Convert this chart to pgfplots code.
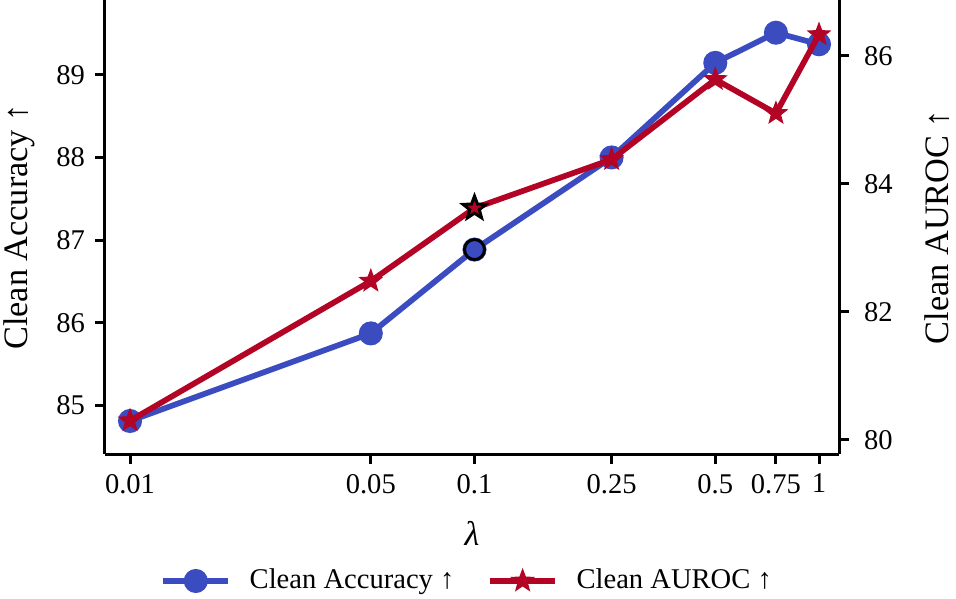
\documentclass[border=0pt]{standalone}
\usepackage{pgfplots}
\pgfplotsset{compat=1.18}
\usepackage{fontspec}
\setmainfont{Liberation Serif}
\definecolor{cblue}{HTML}{3B4CC0}
\definecolor{cred}{HTML}{B40426}
\pgfdeclareplotmark{fstar}{%
  \pgfpathmoveto{\pgfpointpolar{90}{\pgfplotmarksize}}%
  \pgfpathlineto{\pgfpointpolar{126}{0.42\pgfplotmarksize}}%
  \pgfpathlineto{\pgfpointpolar{162}{\pgfplotmarksize}}%
  \pgfpathlineto{\pgfpointpolar{198}{0.42\pgfplotmarksize}}%
  \pgfpathlineto{\pgfpointpolar{234}{\pgfplotmarksize}}%
  \pgfpathlineto{\pgfpointpolar{270}{0.42\pgfplotmarksize}}%
  \pgfpathlineto{\pgfpointpolar{306}{\pgfplotmarksize}}%
  \pgfpathlineto{\pgfpointpolar{342}{0.42\pgfplotmarksize}}%
  \pgfpathlineto{\pgfpointpolar{18}{\pgfplotmarksize}}%
  \pgfpathlineto{\pgfpointpolar{54}{0.42\pgfplotmarksize}}%
  \pgfpathclose
  \pgfusepathqfillstroke
}
\begin{document}
\begin{tikzpicture}
\begin{axis}[scale only axis, width=256.9pt, height=158.9pt,
  xmode=log, xmin=0.00846, xmax=1.143,
  xtick={0.01,0.05,0.1,0.25,0.5,0.75,1},
  xticklabels={0.01,0.05,0.1,0.25,0.5,0.75,1},
  minor xtick={},
  tick align=outside, major tick length=3.5pt,
  every tick/.style={black, line width=1.05pt},
  axis line style={line width=1.05pt},
  tick label style={font=\fontsize{10}{12}\selectfont},
  /pgf/number format/assume math mode=true,
  label style={font=\fontsize{12}{14}\selectfont},
  clip=false,
  axis x line*=bottom, axis y line*=left,
  ymin=84.41, ymax=89.906, ytick={85,86,87,88,89},
  xlabel={\textit{λ}}, ylabel={Clean Accuracy ↑},
  xlabel style={at={(axis description cs:0.5,-0.174)}, anchor=center},
  ylabel style={at={(axis description cs:-0.1172,0.5)}, anchor=center, rotate=0}]
\addplot[cblue, line width=2pt, mark=*, mark size=3.2pt, mark options={solid}] coordinates {
(0.01,84.81) (0.05,85.87) (0.1,86.885) (0.25,88.0) (0.5,89.145) (0.75,89.51) (1,89.37)};
\addplot[only marks, mark=*, mark size=3.5pt, mark options={draw=black, fill=cblue, line width=1.05pt}] coordinates {(0.1,86.885)};
\end{axis}
\begin{axis}[scale only axis, width=256.9pt, height=158.9pt,
  xmode=log, xmin=0.00846, xmax=1.143,
  xtick={0.01,0.05,0.1,0.25,0.5,0.75,1},
  minor xtick={},
  tick align=outside, major tick length=3.5pt,
  every tick/.style={black, line width=1.05pt},
  axis line style={line width=1.05pt},
  tick label style={font=\fontsize{10}{12}\selectfont},
  yticklabel style={xshift=1.75pt},
  /pgf/number format/assume math mode=true,
  label style={font=\fontsize{12}{14}\selectfont},
  clip=false,
  axis x line=none, axis y line*=right,
  ymin=79.78, ymax=86.87, ytick={80,82,84,86},
  ylabel={Clean AUROC ↑},
  ylabel style={at={(axis description cs:1.1335,0.5)}, anchor=center},
  legend image code/.code={\draw[mark repeat=2,mark phase=2] plot coordinates {(0cm,0cm) (0.4cm,0cm) (0.8cm,0cm)};},
  legend style={at={(rel axis cs:0.4959,-0.2797)}, anchor=center, draw=none, fill=none,
    legend columns=2, font=\fontsize{10}{12}\selectfont,
    /tikz/every odd column/.append style={column sep=4.5pt},
    /tikz/every even column/.append style={column sep=9.5pt}}]
\addlegendimage{cblue, line width=2pt, mark=*, mark size=3.2pt, mark options={solid}}
\addlegendentry{Clean Accuracy ↑}
\addplot[cred, line width=2pt, mark=fstar, mark size=4pt, mark options={solid, fill=cred, line width=0.4pt, line join=miter}] coordinates {
(0.01,80.30) (0.05,82.48) (0.1,83.62) (0.25,84.38) (0.5,85.63) (0.75,85.10) (1,86.33)};
\addlegendentry{Clean AUROC ↑}
\addplot[only marks, mark=fstar, mark size=4.2pt, mark options={draw=black, fill=cred, line width=1.05pt, line join=miter}, forget plot] coordinates {(0.1,83.62)};
\end{axis}
\pgfresetboundingbox
\path (-36.75pt,-50.4pt) rectangle (297.85pt,158.9pt);
\end{tikzpicture}
\end{document}
